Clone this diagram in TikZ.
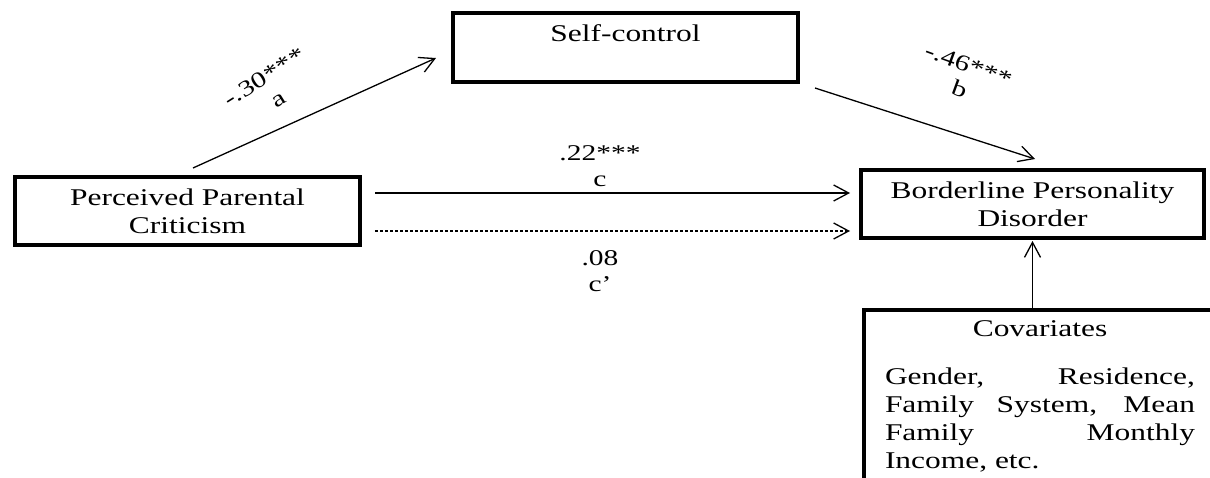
\documentclass[tikz,border=0pt]{standalone}
\usepackage{fontspec}
\setmainfont{Liberation Serif}[FakeStretch=1.31]
\usetikzlibrary{arrows.meta,calc}

\begin{document}
\begin{tikzpicture}[x=1pt,y=1pt,
  box/.style={draw, line width=4pt, align=center, inner sep=0pt,
    font=\fontsize{24}{28}\selectfont},
  arr/.style={line width=1.3pt,
    -{Straight Barb[length=15pt,width=16pt,line width=1.3pt]}},
  lbl/.style={font=\fontsize{22.5}{26}\selectfont, align=center, inner sep=0pt}]
\clip (0,0) rectangle (1210,-477);
\fill[white] (0,0) rectangle (1210,-477);

% variables
\node[box, minimum width=345, minimum height=69] (sc) at (625.5,-47.5) {Self-control\\\mbox{}};
\node[box, minimum width=345, minimum height=68] (ppc) at (187.5,-211) {Perceived Parental\\Criticism};
\node[box, minimum width=343, minimum height=68] (bpd) at (1032.5,-204) {Borderline Personality\\Disorder};
\node[draw, line width=4pt, anchor=north west, inner xsep=21, inner ysep=11] (cov) at (862,-308)
  {\parbox[t]{310pt}{\fontsize{24}{28}\selectfont
   \centering Covariates\par\vspace{19.5pt}\raggedright
   \makebox[\linewidth][s]{Gender, Residence,}\par
   \makebox[\linewidth][s]{Family System, Mean}\par
   \makebox[\linewidth][s]{Family Monthly}\par
   Income, etc.\par
   \vspace{60pt}}};

% paths
\draw[arr] ([shift={(5.5,7)}]ppc.north) -- ([shift={(-15,-10.5)}]sc.west);
\draw[arr] ([shift={(15,-4)}]sc.south east) -- ([shift={(2.5,9)}]bpd.north);
\draw[arr] ($(ppc.east)+(13,18)$) -- ($(ppc.east -| bpd.west)+(-9,18)$);
\draw[arr, dash pattern=on 3pt off 2pt] ($(ppc.east)+(13,-20)$) -- ($(ppc.east -| bpd.west)+(-9,-20)$);
\draw[arr, shorten >=1pt] (cov.north -| bpd.south) -- (bpd.south);

% coefficients
\node[lbl, rotate=32] (la) at (271,-88) {-.30***\\a};
\node[lbl, rotate=-20] (lb) at (964,-77) {-.46***\\b};
\node[lbl] (lc) at (600,-166) {.22***\\c};
\node[lbl] (ld) at (600,-271) {.08\\c’};
\end{tikzpicture}
\end{document}
